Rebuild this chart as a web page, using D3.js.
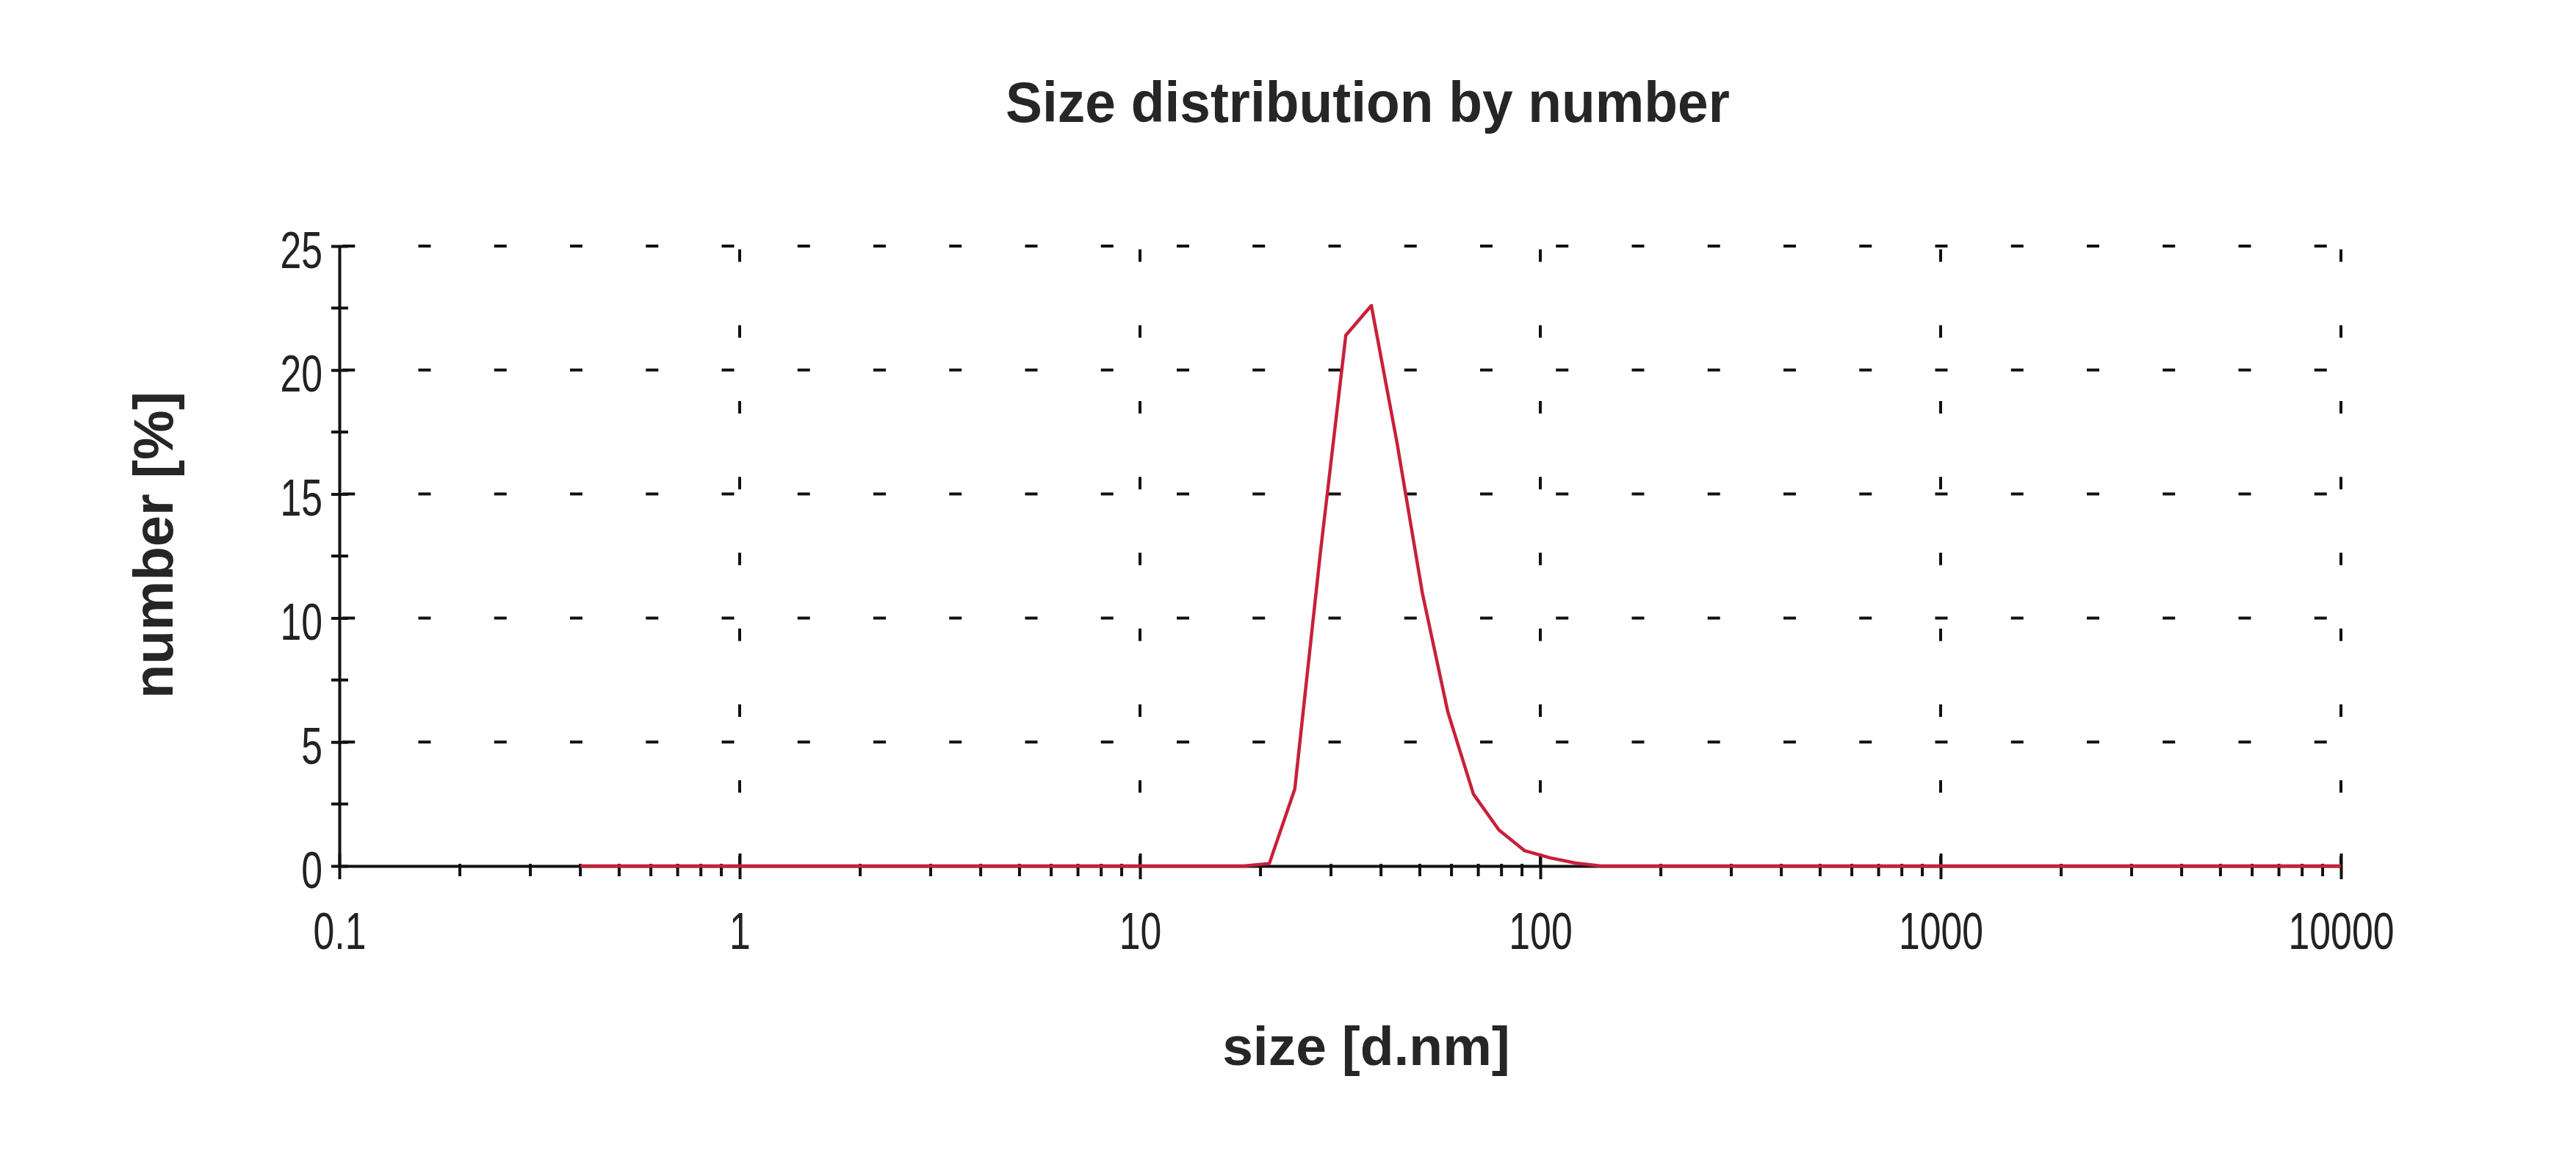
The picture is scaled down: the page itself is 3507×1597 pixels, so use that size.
<!DOCTYPE html>
<html lang="en">
<head>
<meta charset="utf-8">
<title>Size distribution by number</title>
<script src="https://d3js.org/d3.v7.min.js"></script>
<style>
  html, body { margin: 0; padding: 0; background: #ffffff; }
  svg { display: block; }
  text { font-family: "Liberation Sans", Arial, sans-serif; }
</style>
</head>
<body>
<div id="chart"></div>
<script>

// bin sizes (d.nm) and number distribution (%)
var sizes = [0.4, 0.4632, 0.5365, 0.6213, 0.7195, 0.8332, 0.9649, 1.117, 1.294, 1.499,
             1.736, 2.010, 2.328, 2.696, 3.122, 3.615, 4.187, 4.849, 5.615, 6.503,
             7.531, 8.721, 10.10, 11.70, 13.54, 15.69, 18.17, 21.04, 24.36, 28.21,
             32.67, 37.84, 43.82, 50.75, 58.77, 68.06, 78.82, 91.28, 105.7, 122.4,
             141.8, 164.2, 190.1, 220.2, 255.0, 295.3, 342.0, 396.1, 458.7, 531.2,
             615.1, 712.4, 825.0, 955.4, 1106, 1281, 1484, 1718, 1990, 2305,
             2669, 3091, 3580, 4145, 4801, 5560, 6439, 7456, 8635, 10000];

var numbers = [0, 0, 0, 0, 0, 0, 0, 0, 0, 0,
               0, 0, 0, 0, 0, 0, 0, 0, 0, 0,
               0, 0, 0, 0, 0, 0, 0, 0.1, 3.1, 12.6,
               21.4, 22.6, 17.1, 11.0, 6.2, 2.9, 1.45, 0.62, 0.33, 0.12,
               0, 0, 0, 0, 0, 0, 0, 0, 0, 0,
               0, 0, 0, 0, 0, 0, 0, 0, 0, 0,
               0, 0, 0, 0, 0, 0, 0, 0, 0, 0];

var xTicks = [0.1, 1, 10, 100, 1000, 10000];
var xTickLabels = ["0.1", "1", "10", "100", "1000", "10000"];
var yTicks = [0, 5, 10, 15, 20, 25];
var yTickLabels = ["0", "5", "10", "15", "20", "25"];
var yMinor = [2.5, 7.5, 12.5, 17.5, 22.5];
var xMinorSteps = [2, 3, 4, 5, 6, 7, 8, 9];

var title = "Size distribution by number";
var xTitle = "size [d.nm]";
var yTitle = "number [%]";

var W = 3507, H = 1597;

var svg = d3.select("#chart").append("svg")
  .attr("width", W)
  .attr("height", H);

svg.append("rect").attr("width", W).attr("height", H).attr("fill", "#ffffff");

var x = d3.scaleLog().domain([0.1, 10000]).range([462, 3187]);
var y = d3.scaleLinear().domain([0, 25]).range([1179, 335]);

var xMinor = [];
xTicks.slice(0, -1).forEach(function(d) {
  xMinorSteps.forEach(function(s) { xMinor.push(d * s); });
});

// grid: short dashes
var dashLen = 17, dashPeriod = 103.25;

svg.append("g").selectAll("line")
  .data(yTicks.slice(1))
  .enter().append("line")
  .attr("x1", x.range()[0]).attr("x2", x.range()[1])
  .attr("y1", function(d) { return y(d); })
  .attr("y2", function(d) { return y(d); })
  .attr("stroke", "#111")
  .attr("stroke-width", 4)
  .attr("stroke-dasharray", dashLen + " " + (dashPeriod - dashLen))
  .attr("stroke-dashoffset", 2 * dashPeriod - 107.5);

svg.append("g").selectAll("line")
  .data(xTicks.slice(1))
  .enter().append("line")
  .attr("x1", function(d) { return x(d); })
  .attr("x2", function(d) { return x(d); })
  .attr("y1", y(25)).attr("y2", y(0))
  .attr("stroke", "#111")
  .attr("stroke-width", 4)
  .attr("stroke-dasharray", dashLen + " " + (dashPeriod - dashLen))
  .attr("stroke-dashoffset", dashPeriod - 4.5);

// x axis
var xAxis = svg.append("g")
  .attr("transform", "translate(0," + y(0) + ")")
  .call(d3.axisBottom(x).tickValues(xTicks).tickSize(0).tickFormat(function(d, i) { return xTickLabels[i]; }));

xAxis.select(".domain").attr("stroke", "#111").attr("stroke-width", 4);
xAxis.selectAll(".tick line").attr("y1", -17).attr("y2", 18).attr("stroke", "#111").attr("stroke-width", 4);
xAxis.selectAll(".tick text")
  .attr("y", null).attr("dy", null)
  .attr("font-size", 70)
  .attr("fill", "#222")
  .attr("font-family", "Liberation Sans, Arial, sans-serif")
  .attr("text-anchor", "middle")
  .attr("transform", "translate(0,113) scale(0.74,1)");

xAxis.selectAll(".minor")
  .data(xMinor)
  .enter().append("line")
  .attr("class", "minor")
  .attr("x1", function(d) { return x(d); })
  .attr("x2", function(d) { return x(d); })
  .attr("y1", -3).attr("y2", 14)
  .attr("stroke", "#111")
  .attr("stroke-width", 4);

// y axis
var yAxis = svg.append("g")
  .attr("transform", "translate(" + x(0.1) + ",0)")
  .call(d3.axisLeft(y).tickValues(yTicks).tickSize(0).tickFormat(function(d, i) { return yTickLabels[i]; }));

yAxis.select(".domain").attr("stroke", "#111").attr("stroke-width", 4);
yAxis.selectAll(".tick line").attr("x1", -11).attr("x2", 12).attr("stroke", "#111").attr("stroke-width", 4);
yAxis.selectAll(".tick text")
  .attr("x", null).attr("dy", null)
  .attr("font-size", 70)
  .attr("fill", "#222")
  .attr("font-family", "Liberation Sans, Arial, sans-serif")
  .attr("text-anchor", "end")
  .attr("transform", "translate(-23,29) scale(0.74,1)");

yAxis.selectAll(".minor")
  .data(yMinor)
  .enter().append("line")
  .attr("class", "minor")
  .attr("x1", -11).attr("x2", 12)
  .attr("y1", function(d) { return y(d); })
  .attr("y2", function(d) { return y(d); })
  .attr("stroke", "#111")
  .attr("stroke-width", 4);

// distribution curve
var line = d3.line()
  .x(function(d, i) { return x(sizes[i]); })
  .y(function(d) { return y(d); });

svg.append("path")
  .datum(numbers)
  .attr("d", line)
  .attr("fill", "none")
  .attr("stroke", "#c8203a")
  .attr("stroke-width", 4.5)
  .attr("stroke-linejoin", "round");

// titles
svg.append("text")
  .attr("transform", "translate(1862,166) scale(0.96,1)")
  .attr("text-anchor", "middle")
  .attr("font-size", 78)
  .attr("font-weight", "bold")
  .attr("fill", "#262626")
  .text(title);

svg.append("text")
  .attr("x", 1860).attr("y", 1450)
  .attr("text-anchor", "middle")
  .attr("font-size", 75)
  .attr("font-weight", "bold")
  .attr("fill", "#262626")
  .text(xTitle);

svg.append("text")
  .attr("transform", "translate(235,742) rotate(-90)")
  .attr("text-anchor", "middle")
  .attr("font-size", 76)
  .attr("font-weight", "bold")
  .attr("fill", "#262626")
  .text(yTitle);

</script>
</body>
</html>
